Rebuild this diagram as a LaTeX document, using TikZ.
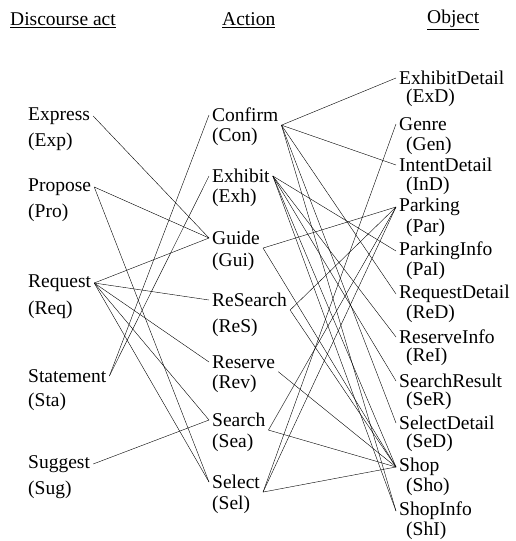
\documentclass[tikz,border=0pt]{standalone}
\usepackage{fontspec}
\setmainfont{Liberation Serif}
\usetikzlibrary{positioning}

\tikzset{
    item/.style={anchor=west, inner sep=3pt, font=\fontsize{19.5}{22}\selectfont},
    abbr/.style={anchor=west, inner sep=3pt, font=\fontsize{19.5}{22}\selectfont},
    head/.style={anchor=west, inner sep=0pt, font=\fontsize{19.5}{22}\selectfont},
    link/.style={thin, black}
}

\begin{document}
\begin{tikzpicture}[x=1pt,y=-1pt]
        % Draw page frame
        \useasboundingbox (0,0) rectangle (515,541);
        % Draw column heads
        \node[head] (hda) at (10,20) {\underline{Discourse act}};
        \node[head] (hac) at (222,20) {\underline{Action}};
        \node[head] (hob) at (427,20) {\underline{Object}};

        % Draw discourse acts
        \node[item] (exp) at (25,116) {Express};
        \node[abbr] (expa) at (25,142) {(Exp)};
        \node[item] (pro) at (25,187) {Propose};
        \node[abbr] (proa) at (25,213) {(Pro)};
        \node[item] (req) at (25,283) {Request};
        \node[abbr] (reqa) at (25,310) {(Req)};
        \node[item] (sta) at (25,376) {Statement};
        \node[abbr] (staa) at (25,402) {(Sta)};
        \node[item] (sug) at (25,464) {Suggest};
        \node[abbr] (suga) at (25,490) {(Sug)};

        % Draw actions
        \node[item] (con) at (209,115) {Confirm};
        \node[abbr] (cona) at (209,137) {(Con)};
        \node[item] (exh) at (209,176) {Exhibit};
        \node[abbr] (exha) at (209,198) {(Exh)};
        \node[item] (gui) at (209,238) {Guide};
        \node[abbr] (guia) at (209,262) {(Gui)};
        \node[item] (res) at (209,300) {ReSearch};
        \node[abbr] (resa) at (209,328) {(ReS)};
        \node[item] (rev) at (209,362) {Reserve};
        \node[abbr] (reva) at (209,384) {(Rev)};
        \node[item] (sea) at (209,420) {Search};
        \node[abbr] (seaa) at (209,443) {(Sea)};
        \node[item] (sel) at (209,482) {Select};
        \node[abbr] (sela) at (209,505) {(Sel)};

        % Draw objects
        \node[item] (exd) at (396,78) {ExhibitDetail};
        \node[abbr] (exda) at (403,98) {(ExD)};
        \node[item] (gen) at (396,124) {Genre};
        \node[abbr] (gena) at (403,146) {(Gen)};
        \node[item] (ind) at (396,165) {IntentDetail};
        \node[abbr] (inda) at (403,186) {(InD)};
        \node[item] (par) at (396,207) {Parking};
        \node[abbr] (para) at (403,228) {(Par)};
        \node[item] (pai) at (396,251) {ParkingInfo};
        \node[abbr] (paia) at (403,271) {(PaI)};
        \node[item] (red) at (396,294) {RequestDetail};
        \node[abbr] (reda) at (403,314) {(ReD)};
        \node[item] (rei) at (396,337) {ReserveInfo};
        \node[abbr] (reia) at (403,357) {(ReI)};
        \node[item] (ser) at (396,381) {SearchResult};
        \node[abbr] (sera) at (403,401) {(SeR)};
        \node[item] (sed) at (396,423) {SelectDetail};
        \node[abbr] (seda) at (403,443) {(SeD)};
        \node[item] (sho) at (396,467) {Shop};
        \node[abbr] (shoa) at (403,487) {(Sho)};
        \node[item] (shi) at (396,511) {ShopInfo};
        \node[abbr] (shia) at (403,531) {(ShI)};

        % Draw links from discourse acts to actions
        \draw[link] (exp.east) -- (gui.west);
        \draw[link] (pro.east) -- (gui.west);
        \draw[link] (pro.east) -- (sel.west);
        \draw[link] (req.east) -- (gui.west);
        \draw[link] (req.east) -- (res.west);
        \draw[link] (req.east) -- (rev.west);
        \draw[link] (req.east) -- (sea.west);
        \draw[link] (req.east) -- (sel.west);
        \draw[link] (sta.east) -- (con.west);
        \draw[link] (sta.east) -- (exh.west);
        \draw[link] (sug.east) -- (sea.west);

        % Draw links from actions to objects
        \draw[link] (con.south east) -- (exd.west);
        \draw[link] (con.south east) -- (ind.west);
        \draw[link] (con.south east) -- (red.west);
        \draw[link] (con.south east) -- (sed.west);
        \draw[link] (con.south east) -- (shi.west);
        \draw[link] (exh.east) -- (pai.west);
        \draw[link] (exh.east) -- (rei.west);
        \draw[link] (exh.east) -- (ser.west);
        \draw[link] (exh.east) -- (sho.west);
        \draw[link] (exh.east) -- (shi.west);
        \draw[link] (gui.south east) -- (par.west);
        \draw[link] (gui.south east) -- (sho.west);
        \draw[link] (res.south east) -- (par.west);
        \draw[link] (res.south east) -- (sho.west);
        \draw[link] (rev.south east) -- (sho.west);
        \draw[link] (sea.south east) -- (par.west);
        \draw[link] (sea.south east) -- (sho.west);
        \draw[link] (sel.south east) -- (gen.west);
        \draw[link] (sel.south east) -- (par.west);
        \draw[link] (sel.south east) -- (sho.west);
    \end{tikzpicture}
\end{document}
